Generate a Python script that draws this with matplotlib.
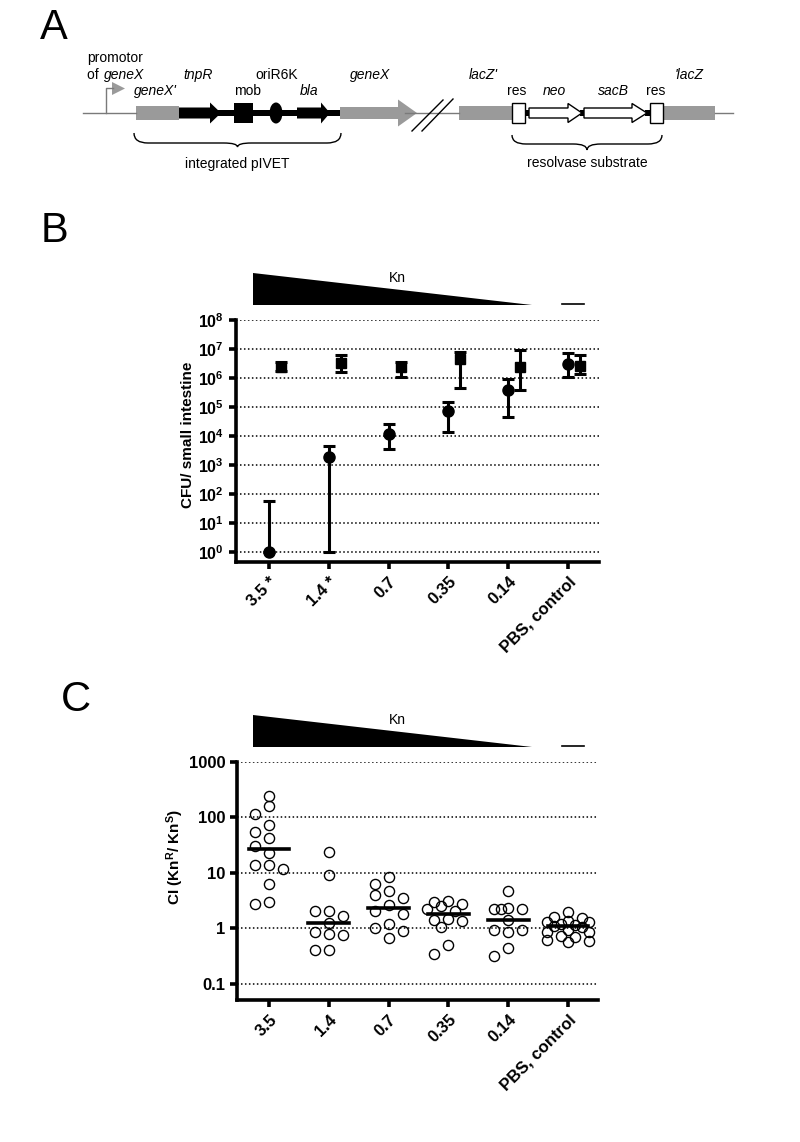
import numpy as np
import matplotlib
matplotlib.use('Agg')
import matplotlib.pyplot as plt
from matplotlib.patches import Polygon, Rectangle, Ellipse, PathPatch
from matplotlib.path import Path
from matplotlib.ticker import FixedLocator, FuncFormatter, NullLocator

plt.rcParams['font.family'] = ['Liberation Sans', 'DejaVu Sans']
plt.rcParams['mathtext.fontset'] = 'custom'
plt.rcParams['mathtext.rm'] = 'Liberation Sans'
plt.rcParams['mathtext.it'] = 'Liberation Sans:italic'
plt.rcParams['mathtext.bf'] = 'Liberation Sans:bold'
plt.rcParams['mathtext.default'] = 'bf'

# panel B - CFU per small intestine (circles = KnR strain, squares = KnS strain)
doses_b = ['3.5 *', '1.4 *', '0.7', '0.35', '0.14', 'PBS, control']
knr = [1, 1.9e3, 1.17e4, 7.2e4, 3.9e5, 3.0e6]
knr_hi = [57, 4.6e3, 2.6e4, 1.5e5, 9.3e5, 7.2e6]
knr_lo = [1, 1, 3.5e3, 1.4e4, 4.6e4, 1.07e6]
kns = [2.4e6, 3.2e6, 2.4e6, 4.4e6, 2.4e6, 2.6e6]
kns_hi = [3.5e6, 6.2e6, 3.5e6, 7.9e6, 9.3e6, 6.2e6]
kns_lo = [1.7e6, 1.6e6, 1.07e6, 4.6e5, 3.9e5, 1.4e6]

# panel C - competitive index per mouse
doses_c = ['3.5', '1.4', '0.7', '0.35', '0.14', 'PBS, control']
ci_35 = [240, 158, 117, 74, 55, 43, 31, 23, 13.8, 12, 13.8, 6.3, 2.8, 2.95]
ci_14 = [23.8, 9.3, 2.08, 1.71, 2.02, 1.25, 0.85, 0.75, 0.79, 0.41, 0.41]
ci_07 = [8.4, 6.3, 4.8, 4.0, 3.6, 2.6, 2.1, 1.82, 1.2, 1.0, 0.91, 0.67]
ci_035 = [3.07, 3.0, 2.79, 2.5, 2.24, 2.1, 1.5, 1.4, 1.38, 1.04, 0.51, 0.35]
ci_014 = [4.65, 2.33, 2.24, 2.24, 2.24, 1.39, 0.92, 0.92, 0.85, 0.44, 0.32]
ci_pbs = [2.0, 1.6, 1.55, 1.35, 1.3, 1.28, 1.18, 1.15, 1.1, 1.08, 0.95, 0.88,
          0.85, 0.72, 0.7, 0.63, 0.6, 0.58]
ci_groups = [ci_35, ci_14, ci_07, ci_035, ci_014, ci_pbs]

gray = '#9a9a9a'


def swarm_offsets(vals, px_per_decade, px_per_unit=59.8, dmin=10.0, step=7.0):
    # simple beeswarm: put each point as close to the centre as possible
    ys = np.log10(vals) * px_per_decade
    order = np.argsort(vals)[::-1]
    cand = [0, -2, 2, -1, 1, -3, 3]
    placed = []
    off = np.zeros(len(vals))
    for i in order:
        best = None
        best_d, best_x = -1, 0
        for k in cand:
            x = k * step
            d = min([np.hypot(x - px, ys[i] - py) for px, py in placed], default=1e9)
            if d >= dmin:
                best = x
                break
            if d > best_d:
                best_d, best_x = d, x
        if best is None:
            best = best_x
        placed.append((best, ys[i]))
        off[i] = best / px_per_unit
    return off


def style_axis(ax):
    for s in ['top', 'right']:
        ax.spines[s].set_visible(False)
    for s in ['left', 'bottom']:
        ax.spines[s].set_linewidth(2.6)
    ax.tick_params(axis='both', width=2.6, length=5, direction='out')
    ax.yaxis.set_minor_locator(NullLocator())
    ax.grid(axis='y', which='major', ls=(0, (1, 1.6)), color='k', lw=1.1)
    ax.set_axisbelow(True)


fig = plt.figure(figsize=(8, 11.42), dpi=100)

# ---------------- panel B
axb = fig.add_axes([236 / 800, 1 - 562 / 1142, 363 / 800, 242 / 1142])
xb = np.arange(len(doses_b))
knr = np.array(knr); kns = np.array(kns)
axb.errorbar(xb, knr, yerr=[knr - np.array(knr_lo), np.array(knr_hi) - knr],
             fmt='o', color='k', ms=8, elinewidth=2.2, capsize=4.5, capthick=2.2,
             clip_on=False, zorder=3)
axb.errorbar(xb + 0.2, kns, yerr=[kns - np.array(kns_lo), np.array(kns_hi) - kns],
             fmt='s', color='k', ms=7, elinewidth=2.2, capsize=4.5, capthick=2.2,
             clip_on=False, zorder=3)
axb.set_yscale('log')
axb.set_xlim(-0.552, 5.518)
axb.set_ylim(10 ** -0.345, 1e8)
axb.yaxis.set_major_locator(FixedLocator([10.0 ** k for k in range(9)]))
axb.yaxis.set_major_formatter(FuncFormatter(lambda v, p: r'$10^{%d}$' % round(np.log10(v))))
style_axis(axb)
axb.set_xticks(xb)
axb.set_xticklabels(doses_b, rotation=45, ha='right', rotation_mode='anchor',
                    fontsize=12, fontweight='bold')
for t in axb.get_yticklabels():
    t.set_fontsize(11.5)
axb.set_ylabel('CFU/ small intestine', fontsize=11, fontweight='bold')
axb.yaxis.set_label_coords(-0.113, 0.525)

# ---------------- panel C
axc = fig.add_axes([237 / 800, 1 - 1000 / 1142, 361 / 800, 238 / 1142])
for i, vals in enumerate(ci_groups):
    off = swarm_offsets(vals, 55.47)
    axc.plot(i + off, vals, 'o', mfc='none', mec='k', ms=7.3, mew=1.0,
             clip_on=False, zorder=3)
    med = np.median(vals)
    axc.plot([i - 0.34, i + 0.34], [med, med], color='k', lw=2.6, zorder=4)
axc.set_yscale('log')
axc.set_xlim(-0.535, 5.5)
axc.set_ylim(10 ** -1.29, 1000)
axc.yaxis.set_major_locator(FixedLocator([0.1, 1, 10, 100, 1000]))
axc.yaxis.set_major_formatter(FuncFormatter(lambda v, p: '%g' % v))
style_axis(axc)
axc.set_xticks(np.arange(len(doses_c)))
axc.set_xticklabels(doses_c, rotation=45, ha='right', rotation_mode='anchor',
                    fontsize=12, fontweight='bold')
for t in axc.get_yticklabels():
    t.set_fontsize(12)
    t.set_fontweight('bold')
axc.set_ylabel(r'CI (Kn$^{R}$/ Kn$^{S}$)', fontsize=11, fontweight='bold')
axc.yaxis.set_label_coords(-0.141, 0.6)

# ---------------- overlay in pixel coordinates (panel A, wedges, letters)
ov = fig.add_axes([0, 0, 1, 1])
ov.set_xlim(0, 800)
ov.set_ylim(1142, 0)
ov.axis('off')


def gene_arrow(x0, x1, head, body_h, head_h, y=113, fc='k', ec='k', lw=0):
    pts = [(x0, y - body_h / 2), (x1 - head, y - body_h / 2), (x1 - head, y - head_h / 2),
           (x1, y), (x1 - head, y + head_h / 2), (x1 - head, y + body_h / 2),
           (x0, y + body_h / 2)]
    ov.add_patch(Polygon(pts, closed=True, fc=fc, ec=ec, lw=lw, joinstyle='miter'))


def brace(x0, x1, y0, h, tip, lw=1.0):
    xm = (x0 + x1) / 2
    q = 14
    verts = [(x0, y0), (x0, y0 + h), (x0 + q, y0 + h),
             (xm - q, y0 + h), (xm, y0 + h), (xm, y0 + h + tip),
             (xm, y0 + h), (xm + q, y0 + h),
             (x1 - q, y0 + h), (x1, y0 + h), (x1, y0)]
    codes = [Path.MOVETO, Path.CURVE3, Path.CURVE3,
             Path.LINETO, Path.CURVE3, Path.CURVE3,
             Path.CURVE3, Path.CURVE3,
             Path.LINETO, Path.CURVE3, Path.CURVE3]
    ov.add_patch(PathPatch(Path(verts, codes), fc='none', ec='k', lw=lw))


# thin genomic line pieces
ov.plot([83, 136], [113, 113], color='#7a7a7a', lw=1)
ov.plot([405, 459], [113, 113], color='#7a7a7a', lw=1)
ov.plot([715, 733], [113, 113], color='#7a7a7a', lw=1)
# promoter
ov.plot([106, 106, 113], [113, 88, 88], color='#7a7a7a', lw=1)
ov.add_patch(Polygon([(112, 82), (112, 95), (125, 88.5)], closed=True, fc=gray, ec='none'))
# integrated pIVET
ov.add_patch(Rectangle((136, 106), 43, 14, fc=gray, ec='none'))
ov.add_patch(Rectangle((179, 110), 161, 6, fc='k', ec='none'))
gene_arrow(179, 221, 11, 11, 21)
ov.add_patch(Rectangle((234, 103), 19, 20, fc='k', ec='none'))
ov.add_patch(Ellipse((276, 113), 13, 21, fc='k', ec='none'))
gene_arrow(297, 330, 9, 11, 21)
gene_arrow(340, 417, 19, 12, 27, fc=gray, ec=gray)
ov.plot([412, 443], [131, 100], color='k', lw=1)
ov.plot([422, 453], [131, 99], color='k', lw=1)
# resolvase substrate
ov.add_patch(Rectangle((459, 106), 53, 14, fc=gray, ec='none'))
ov.add_patch(Rectangle((663, 106), 52, 14, fc=gray, ec='none'))
for xc in [(524, 6), (580, 4), (645, 6)]:
    ov.add_patch(Rectangle((xc[0], 110), xc[1], 6, fc='k', ec='none'))
gene_arrow(529, 582, 14, 10, 19, fc='white', ec='k', lw=1)
gene_arrow(584, 647, 15, 10, 19, fc='white', ec='k', lw=1)
ov.add_patch(Rectangle((512, 103), 13, 20, fc='white', ec='k', lw=1))
ov.add_patch(Rectangle((650, 103), 13, 20, fc='white', ec='k', lw=1))
brace(134, 341, 133, 10, 4)
brace(512, 662, 135, 9, 6)

fs = 10
ov.text(87, 58, 'promotor', fontsize=fs, va='center', ha='left')
ov.text(87, 75, 'of ', fontsize=fs, va='center', ha='left')
ov.text(104, 75, 'geneX', fontsize=fs, va='center', ha='left', style='italic')
labels_a = [(155, 91, "geneX'", 'italic'), (198, 75, 'tnpR', 'italic'),
            (248, 91, 'mob', 'normal'), (277, 75, 'oriR6K', 'normal'),
            (309, 91, 'bla', 'italic'), (370, 75, 'geneX', 'italic'),
            (483, 75, "lacZ'", 'italic'), (517, 91, 'res', 'normal'),
            (554, 91, 'neo', 'italic'), (613, 91, 'sacB', 'italic'),
            (656, 91, 'res', 'normal'), (689, 75, "'lacZ", 'italic'),
            (237, 164, 'integrated pIVET', 'normal'),
            (587, 163, 'resolvase substrate', 'normal')]
for x, y, s, st in labels_a:
    ov.text(x, y, s, fontsize=fs, ha='center', va='center', style=st)

# Kn gradient wedges
for yb in [305, 747]:
    ov.add_patch(Polygon([(253, yb - 32), (253, yb), (532, yb)], closed=True, fc='k', ec='none'))
    ov.plot([562, 584], [yb - 1, yb - 1], color='k', lw=1.2)
    ov.text(397, yb - 27, 'Kn', fontsize=10, ha='center', va='center')

# panel letters
ov.text(54, 28, 'A', fontsize=30, ha='center', va='center')
ov.text(54, 231, 'B', fontsize=30, ha='center', va='center')
ov.text(76, 700, 'C', fontsize=30, ha='center', va='center')

fig.savefig('out.png', dpi=100)
